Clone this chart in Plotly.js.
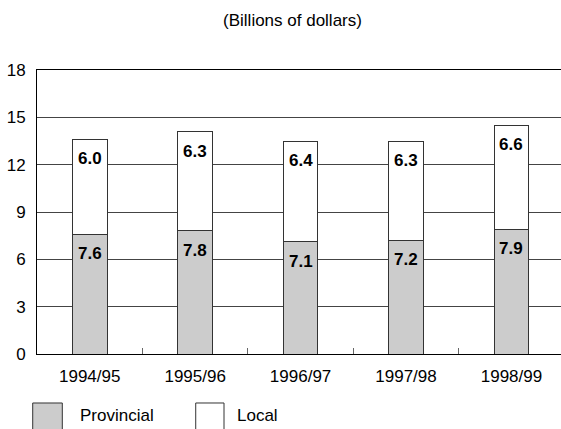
<!DOCTYPE html>
<html>
<head>
<meta charset="utf-8">
<script src="https://cdn.plot.ly/plotly-3.0.1.min.js"></script>
<style>html,body{margin:0;padding:0;overflow:hidden;background:#fff;}#chart{width:561px;height:429px;}</style>
</head>
<body>
<div id="chart"></div>
<script>
const categories = ["1994/95", "1995/96", "1996/97", "1997/98", "1998/99"];
const provincial = [7.6, 7.8, 7.1, 7.2, 7.9];
const local = [6.0, 6.3, 6.4, 6.3, 6.6];
const seriesNames = ["Provincial", "Local"];
const yTicks = [0, 3, 6, 9, 12, 15, 18];

const FONT = "Liberation Sans, Arial, sans-serif";
const lineCol = "#333333";

const traces = [
  {type: "bar", name: seriesNames[0], x: categories, y: provincial, width: 0.33,
   marker: {color: "#cccccc", line: {color: lineCol, width: 1}}, hoverinfo: "skip", showlegend: false},
  {type: "bar", name: seriesNames[1], x: categories, y: local, width: 0.33,
   marker: {color: "#ffffff", line: {color: lineCol, width: 1}}, hoverinfo: "skip", showlegend: false}
];

const annotations = [];
categories.forEach((c, i) => {
  annotations.push({x: c, y: provincial[i], xref: "x", yref: "y", text: provincial[i].toFixed(1),
    showarrow: false, yanchor: "top", yshift: -8, font: {family: FONT, size: 17, color: "#000", weight: "bold"}});
  annotations.push({x: c, y: provincial[i] + local[i], xref: "x", yref: "y", text: local[i].toFixed(1),
    showarrow: false, yanchor: "top", yshift: -8, font: {family: FONT, size: 17, color: "#000", weight: "bold"}});
});
// legend labels
annotations.push({x: 0.078, y: -0.2148, xref: "paper", yref: "paper", text: seriesNames[0], showarrow: false,
  xanchor: "left", yanchor: "middle", font: {family: FONT, size: 17, color: "#000"}});
annotations.push({x: 0.378, y: -0.2148, xref: "paper", yref: "paper", text: seriesNames[1], showarrow: false,
  xanchor: "left", yanchor: "middle", font: {family: FONT, size: 17, color: "#000"}});

const shapes = [
  {type: "rect", xref: "paper", yref: "paper", x0: -0.0082, x1: 0.0483, y0: -0.1725, y1: -0.31,
   fillcolor: "#cccccc", line: {color: lineCol, width: 1}},
  {type: "rect", xref: "paper", yref: "paper", x0: 0.3029, x1: 0.3569, y0: -0.1725, y1: -0.31,
   fillcolor: "#ffffff", line: {color: lineCol, width: 1}}
];

const layout = {
  width: 561, height: 429,
  margin: {l: 37, r: 0, t: 70, b: 75, pad: 0},
  paper_bgcolor: "#fff", plot_bgcolor: "#fff",
  barmode: "stack",
  showlegend: false,
  title: {text: "(Billions of dollars)", font: {family: FONT, size: 17, color: "#000"},
    xref: "container", yref: "container", x: 0.5214, y: 0.953, xanchor: "center", yanchor: "middle"},
  xaxis: {
    type: "category", range: [-0.5, 4.47],
    showline: true, linecolor: "#000", linewidth: 1, mirror: true,
    ticks: "inside", tickson: "boundaries", ticklen: 6, tickcolor: "#666", tickwidth: 1,
    showgrid: false, zeroline: false,
    tickfont: {family: FONT, size: 17, color: "#000"}, ticklabelstandoff: 7
  },
  yaxis: {
    range: [0, 18], tickvals: yTicks, ticktext: yTicks.map(String),
    showline: true, linecolor: "#000", linewidth: 1,
    ticks: "", showgrid: true, gridcolor: "#444", gridwidth: 1, zeroline: false,
    tickfont: {family: FONT, size: 17, color: "#000"}, ticklabelstandoff: 7
  },
  annotations: annotations,
  shapes: shapes
};

Plotly.newPlot("chart", traces, layout, {staticPlot: true, displayModeBar: false});
</script>
</body>
</html>
